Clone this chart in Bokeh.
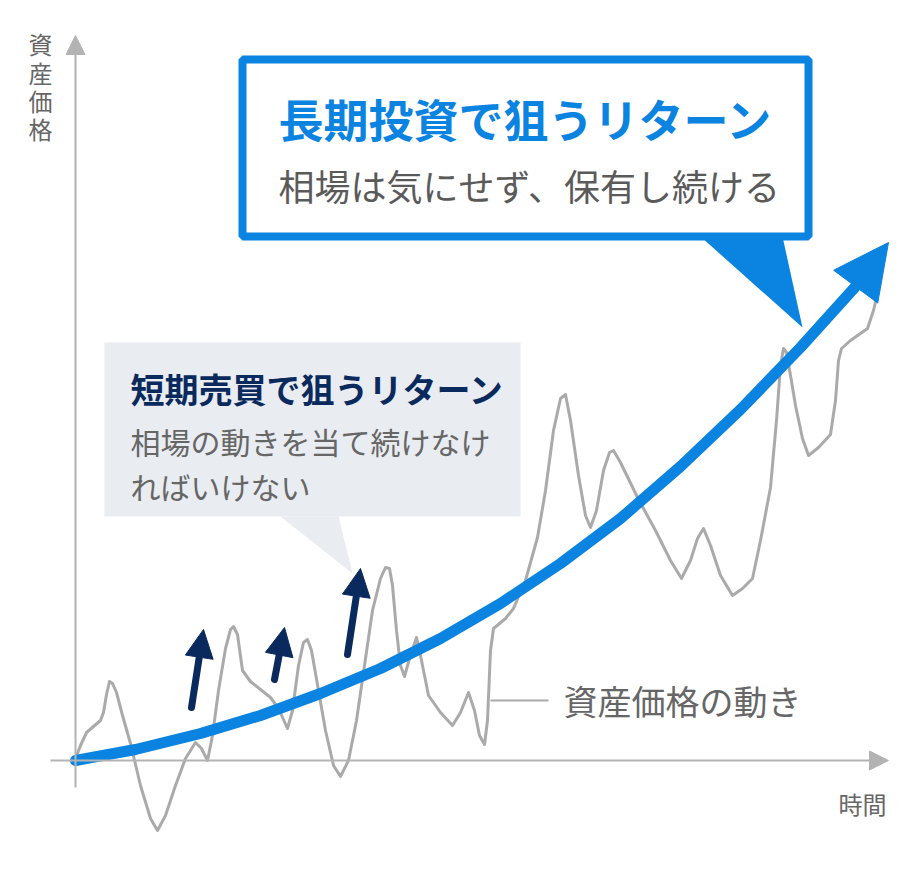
import math
from bokeh.plotting import figure
from bokeh.models import Range1d, Label, Arrow, NormalHead
from bokeh.embed import file_html
from bokeh.resources import INLINE

# ---- data (time, asset price) relative to the origin of the axes ----
price_t = [0, 5, 11, 18, 25, 28, 31, 34, 37, 41, 47, 55, 65, 75, 82, 90, 100, 110, 120, 126, 132,
           137, 143, 150, 155, 158, 162, 167, 175, 185, 195, 203, 212, 217, 223, 228, 232, 236, 243,
           250, 258, 265, 273, 281, 289, 297, 305, 310, 314, 317, 321, 325, 329, 334, 341, 346,
           353, 365, 377, 385, 393, 399, 404, 409, 412, 415, 418, 430, 438, 450, 462, 470,
           478, 485, 490, 495, 503, 510, 515, 521, 528, 534, 538, 545, 562, 580, 595, 606, 615, 622,
           628, 635, 645, 657, 667, 677, 685, 695, 701, 705, 708, 711, 715, 720, 727, 733, 743,
           755, 760, 763, 766, 775, 792, 798, 805]
price_v = [2, 15, 28, 34, 40, 48, 66, 79, 77, 68, 45, 17, -25, -58, -70, -55, -25, 2, 18, 12, 0,
           25, 70, 112, 131, 134, 126, 90, 79, 71, 63, 52, 32, 50, 95, 118, 121, 110, 70,
           30, -5, -16, 0, 40, 95, 150, 182, 193, 192, 175, 130, 95, 84, 102, 123, 100,
           65, 48, 35, 48, 68, 50, 25, 16, 40, 110, 132, 142, 152, 180, 223, 270,
           330, 362, 366, 340, 285, 245, 233, 250, 290, 308, 310, 298, 263, 230, 200, 182, 200, 222,
           232, 215, 185, 165, 172, 182, 220, 273, 340, 395, 412, 408, 385, 355, 322, 305, 313,
           326, 360, 400, 412, 420, 432, 450, 480]

trend_t = [0, 60, 125, 185, 245, 305, 365, 425, 485, 545, 605, 665, 725, 781]
trend_v = [0, 11, 27, 45, 67, 92, 122, 157, 197, 242, 294, 351, 413, 475]
trend_tip = (813, 518)

# short-term trade arrows: (t_start, v_start, t_end, v_end)
short_arrows = [(116, 53, 128, 131), (199, 81, 209, 133), (272, 106, 285, 192)]

BLUE = "#0a84e0"
NAVY = "#0a2a5e"
GRAY_LINE = "#aaaaaa"
AXIS = "#b3b3b3"
TEXT_GRAY = "#5a5a5a"
FONT = "Noto Sans CJK JP"

p = figure(width=920, height=876, x_range=Range1d(-75, 845), y_range=Range1d(-116, 760),
           output_backend="svg", toolbar_location=None, min_border=0)
p.axis.visible = False
p.grid.visible = False
p.outline_line_color = None
p.background_fill_color = "white"

# axes with arrow heads
p.add_layout(Arrow(end=NormalHead(size=19, fill_color=AXIS, line_color=AXIS),
                   x_start=0, y_start=-27, x_end=0, y_end=725,
                   line_color=AXIS, line_width=2))
p.add_layout(Arrow(end=NormalHead(size=19, fill_color=AXIS, line_color=AXIS),
                   x_start=-25, y_start=0, x_end=813, y_end=0,
                   line_color=AXIS, line_width=2))

# short-term callout
p.quad(left=29, right=445, top=418, bottom=244, fill_color="#e9ecf1", line_color=None)
p.patch([205, 263, 277], [244, 244, 187], fill_color="#e9ecf1", line_color=None)

# long-term callout
p.quad(left=167, right=733, top=701, bottom=524, fill_color="white",
       line_color=BLUE, line_width=8)
p.patch([625, 707, 727], [524, 524, 433], fill_color=BLUE, line_color=None)

# asset price line
p.line(price_t, price_v, line_color=GRAY_LINE, line_width=3, line_join="round")

# leader for the price line
p.line([415, 473], [60, 60], line_color=GRAY_LINE, line_width=2)

# trend line
p.line(trend_t, trend_v, line_color=BLUE, line_width=11, line_cap="round", line_join="round")
p.add_layout(Arrow(end=NormalHead(size=55, fill_color=BLUE, line_color=BLUE),
                   x_start=trend_t[-1], y_start=trend_v[-1],
                   x_end=trend_tip[0], y_end=trend_tip[1], line_alpha=0))

# short-term arrows: body (round tail) + head
HEAD = 28
for xs, ys, xe, ye in short_arrows:
    d = math.hypot(xe - xs, ye - ys)
    ux, uy = (xe - xs) / d, (ye - ys) / d
    bx, by = xe - ux * HEAD * 0.8, ye - uy * HEAD * 0.8
    p.line([xs, bx], [ys, by], line_color=NAVY, line_width=7, line_cap="round")
    p.add_layout(Arrow(end=NormalHead(size=HEAD, fill_color=NAVY, line_color=NAVY),
                       x_start=xs, y_start=ys, x_end=xe, y_end=ye, line_alpha=0))

def lab(x, y, text, size, color, bold=False, align="left", baseline="middle"):
    p.add_layout(Label(x=x, y=y, text=text, text_font=FONT, text_font_size=size,
                       text_color=color, text_font_style="bold" if bold else "normal",
                       text_align=align, text_baseline=baseline))

lab(203, 642, "長期投資で狙うリターン", "45px", BLUE, bold=True)
lab(203, 576, "相場は気にせず、保有し続ける", "36px", TEXT_GRAY)
lab(55, 372, "短期売買で狙うリターン", "34px", NAVY, bold=True)
lab(55, 320, "相場の動きを当て続けなけ", "30px", "#666666")
lab(55, 275, "ればいけない", "30px", "#666666")
lab(488, 60, "資産価格の動き", "34px", "#666666")
lab(763, -43, "時間", "24px", "#666666")
for ch, yy in zip("資産価格", [717, 688, 660, 632]):
    lab(-35, yy, ch, "24px", "#666666", align="center")

open("out.html", "w").write(file_html(p, INLINE))
